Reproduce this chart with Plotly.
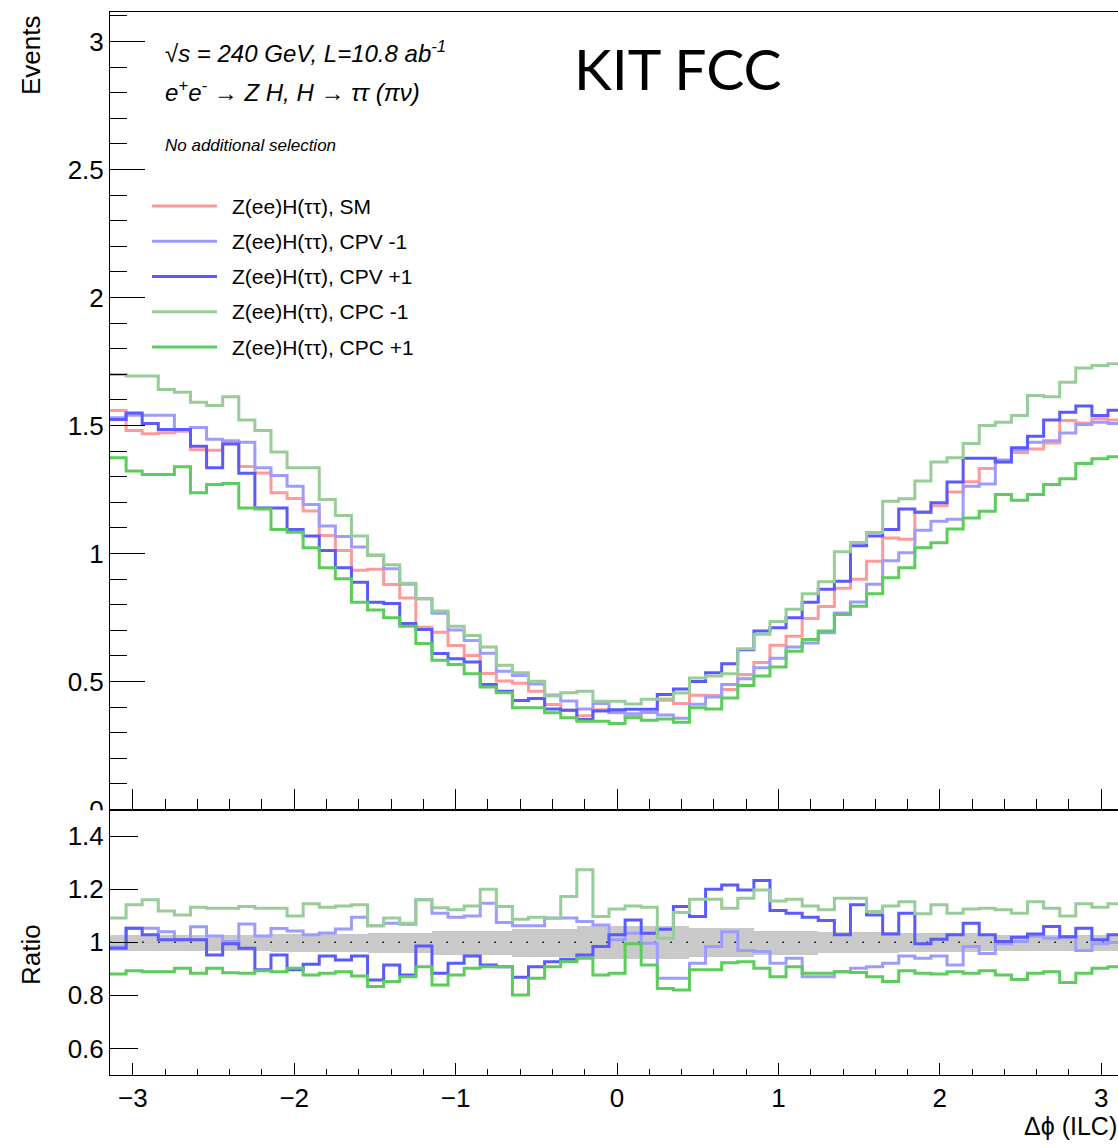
import numpy as np
import plotly.graph_objects as go

# ---------------- data ----------------
n_bins = 63
x_lo, x_hi = -np.pi, np.pi

sm = [1.559, 1.480, 1.468, 1.472, 1.478, 1.405, 1.403, 1.433, 1.340, 1.314,
      1.237, 1.215, 1.166, 1.070, 1.012, 0.935, 0.938, 0.879, 0.826, 0.712,
      0.692, 0.641, 0.602, 0.531, 0.502, 0.493, 0.462, 0.410, 0.388, 0.366,
      0.390, 0.378, 0.364, 0.380, 0.427, 0.414, 0.446, 0.445, 0.469, 0.527,
      0.574, 0.642, 0.677, 0.746, 0.793, 0.864, 0.899, 0.970, 1.061, 1.056,
      1.162, 1.187, 1.240, 1.280, 1.332, 1.358, 1.395, 1.408, 1.432, 1.520,
      1.510, 1.526, 1.521]

cpv_m1 = [1.530, 1.540, 1.540, 1.540, 1.484, 1.492, 1.446, 1.440, 1.435, 1.335,
          1.305, 1.263, 1.191, 1.107, 1.066, 1.025, 0.994, 0.940, 0.880, 0.823,
          0.767, 0.701, 0.660, 0.610, 0.540, 0.523, 0.490, 0.447, 0.424, 0.393,
          0.414, 0.379, 0.374, 0.379, 0.369, 0.356, 0.411, 0.439, 0.488, 0.511,
          0.554, 0.591, 0.635, 0.650, 0.690, 0.768, 0.811, 0.880, 0.972, 1.003,
          1.091, 1.126, 1.134, 1.263, 1.271, 1.365, 1.405, 1.435, 1.440, 1.471,
          1.504, 1.513, 1.508]

cpv_p1 = [1.523, 1.549, 1.508, 1.484, 1.484, 1.419, 1.335, 1.428, 1.313, 1.178,
          1.178, 1.094, 1.068, 1.012, 0.944, 0.888, 0.810, 0.805, 0.727, 0.703,
          0.609, 0.589, 0.576, 0.488, 0.462, 0.426, 0.434, 0.393, 0.388, 0.352,
          0.385, 0.390, 0.392, 0.392, 0.449, 0.471, 0.500, 0.534, 0.569, 0.624,
          0.697, 0.710, 0.749, 0.810, 0.860, 0.892, 1.030, 1.068, 1.094, 1.174,
          1.161, 1.198, 1.279, 1.372, 1.372, 1.357, 1.413, 1.458, 1.521, 1.552,
          1.576, 1.539, 1.560]

cpc_m1 = [1.699, 1.693, 1.693, 1.641, 1.630, 1.591, 1.578, 1.612, 1.521, 1.480,
          1.396, 1.335, 1.335, 1.211, 1.148, 1.068, 0.992, 0.956, 0.884, 0.823,
          0.775, 0.716, 0.680, 0.635, 0.563, 0.534, 0.501, 0.443, 0.456, 0.462,
          0.423, 0.423, 0.412, 0.431, 0.432, 0.455, 0.514, 0.521, 0.530, 0.628,
          0.685, 0.734, 0.782, 0.843, 0.890, 1.007, 1.043, 1.082, 1.204, 1.214,
          1.283, 1.357, 1.374, 1.430, 1.500, 1.513, 1.539, 1.617, 1.612, 1.669,
          1.725, 1.734, 1.741]

cpc_p1 = [1.374, 1.322, 1.309, 1.309, 1.339, 1.237, 1.270, 1.273, 1.178, 1.174,
          1.094, 1.083, 1.022, 0.944, 0.901, 0.810, 0.779, 0.749, 0.716, 0.648,
          0.583, 0.566, 0.530, 0.479, 0.456, 0.397, 0.397, 0.378, 0.358, 0.345,
          0.345, 0.336, 0.358, 0.349, 0.354, 0.341, 0.397, 0.393, 0.436, 0.484,
          0.521, 0.557, 0.618, 0.664, 0.697, 0.762, 0.794, 0.843, 0.905, 0.944,
          1.022, 1.042, 1.096, 1.139, 1.165, 1.230, 1.208, 1.230, 1.270, 1.292,
          1.352, 1.370, 1.378]

ratio_cpv_m1 = [0.982, 1.053, 1.053, 1.040, 1.010, 1.058, 1.024, 1.003, 1.069, 1.024,
                1.052, 1.042, 1.028, 1.035, 1.050, 1.094, 1.062, 1.072, 1.068, 1.160,
                1.109, 1.094, 1.099, 1.147, 1.074, 1.062, 1.062, 1.091, 1.091, 1.078,
                1.065, 1.009, 1.034, 0.996, 0.864, 0.864, 0.921, 0.984, 1.040, 0.969,
                0.965, 0.921, 0.940, 0.870, 0.870, 0.889, 0.902, 0.908, 0.921, 0.948,
                0.940, 0.948, 0.914, 0.984, 0.958, 0.994, 1.003, 1.024, 1.015, 1.019,
                0.969, 0.994, 0.999]

ratio_cpv_p1 = [0.977, 1.053, 1.028, 1.009, 1.009, 1.009, 0.952, 0.994, 0.977, 0.896,
                0.952, 0.896, 0.917, 0.948, 0.933, 0.948, 0.858, 0.914, 0.877, 0.986,
                0.883, 0.921, 0.948, 0.914, 0.908, 0.868, 0.908, 0.927, 0.936, 0.952,
                0.984, 1.028, 1.084, 1.034, 1.049, 1.135, 1.097, 1.200, 1.216, 1.197,
                1.233, 1.120, 1.109, 1.094, 1.082, 1.028, 1.141, 1.103, 1.031, 1.109,
                0.994, 1.011, 1.028, 1.072, 1.028, 1.003, 1.019, 1.031, 1.059, 1.021,
                1.053, 1.009, 1.028]

ratio_cpc_m1 = [1.091, 1.141, 1.160, 1.118, 1.103, 1.132, 1.128, 1.128, 1.135, 1.128,
                1.128, 1.099, 1.145, 1.132, 1.137, 1.141, 1.062, 1.091, 1.072, 1.160,
                1.130, 1.122, 1.137, 1.200, 1.135, 1.087, 1.094, 1.090, 1.172, 1.273,
                1.097, 1.125, 1.137, 1.132, 1.015, 1.112, 1.162, 1.162, 1.128, 1.166,
                1.197, 1.155, 1.162, 1.137, 1.122, 1.166, 1.166, 1.116, 1.137, 1.153,
                1.107, 1.141, 1.109, 1.125, 1.128, 1.122, 1.109, 1.153, 1.128, 1.099,
                1.145, 1.132, 1.145]

ratio_cpc_p1 = [0.880, 0.893, 0.889, 0.889, 0.902, 0.883, 0.902, 0.885, 0.883, 0.893,
                0.889, 0.902, 0.877, 0.883, 0.889, 0.873, 0.833, 0.852, 0.870, 0.908,
                0.839, 0.877, 0.902, 0.908, 0.908, 0.801, 0.864, 0.908, 0.927, 0.940,
                0.877, 0.883, 0.994, 0.914, 0.826, 0.820, 0.896, 0.896, 0.923, 0.927,
                0.902, 0.870, 0.908, 0.883, 0.883, 0.889, 0.886, 0.870, 0.852, 0.893,
                0.883, 0.880, 0.889, 0.883, 0.893, 0.877, 0.860, 0.883, 0.889, 0.848,
                0.883, 0.902, 0.908]

# relative statistical uncertainty of the SM histogram (grey band), per bin
sm_rel_err = [0.030] * 10 + [0.033] * 6 + [0.038] * 4 + [0.045] * 5 + \
             [0.052] * 4 + [0.062] * 7 + [0.055] * 4 + [0.046] * 4 + \
             [0.040] * 5 + [0.035] * 5 + [0.030] * 9

series_names = ["Z(ee)H(ττ), SM", "Z(ee)H(ττ), CPV -1", "Z(ee)H(ττ), CPV +1",
                "Z(ee)H(ττ), CPC -1", "Z(ee)H(ττ), CPC +1"]
x_tick_vals = [-3, -2, -1, 0, 1, 2, 3]
y_main_tick_vals = [0, 0.5, 1, 1.5, 2, 2.5, 3]
y_ratio_tick_vals = [0.6, 0.8, 1.0, 1.2, 1.4]

# ---------------- styling ----------------
colors = ["#ff9a9a", "#9c9cff", "#5a5aff", "#98cc98", "#5ccc5c"]
FONT = "Liberation Sans, Arial, Helvetica, sans-serif"
W, H = 1118, 1148
ML, MR, MT, MB = 110, 0, 12, 73
PW, PH = W - ML - MR, H - MT - MB
PX_PER_UNIT = 161.4
SPLIT_PX = 809.5
TICK_FS = 26


def pxx(px):
    return (px - ML) / PW


def pxy(py):
    return (H - MB - py) / PH


edges = np.linspace(x_lo, x_hi, n_bins + 1)
centers = 0.5 * (edges[:-1] + edges[1:])
bw = edges[1] - edges[0]

fig = go.Figure()

main_series = [sm, cpv_m1, cpv_p1, cpc_m1, cpc_p1]
for name, vals, col in zip(series_names, main_series, colors):
    fig.add_trace(go.Scatter(x=edges, y=list(vals) + [vals[-1]], mode="lines",
                             line=dict(color=col, width=3, shape="hv"),
                             name=name, showlegend=False, xaxis="x", yaxis="y",
                             hoverinfo="skip"))

err = np.array(sm_rel_err)
fig.add_trace(go.Bar(x=centers, y=2 * err, base=1 - err, width=bw,
                     marker=dict(color="#c9c9c9", line=dict(width=0)),
                     showlegend=False, xaxis="x2", yaxis="y2", hoverinfo="skip"))
fig.add_trace(go.Scatter(x=[x_lo, x_hi], y=[1, 1], mode="lines",
                         line=dict(color="#333333", width=1.5, dash="2px,14px"),
                         showlegend=False, xaxis="x2", yaxis="y2", hoverinfo="skip"))

ratio_series = [ratio_cpv_m1, ratio_cpv_p1, ratio_cpc_m1, ratio_cpc_p1]
for name, vals, col in zip(series_names[1:], ratio_series, colors[1:]):
    fig.add_trace(go.Scatter(x=edges, y=list(vals) + [vals[-1]], mode="lines",
                             line=dict(color=col, width=3, shape="hv"),
                             name=name, showlegend=False, xaxis="x2", yaxis="y2",
                             hoverinfo="skip"))

x_range = [x_lo, x_lo + PW / PX_PER_UNIT]
split_frac = pxy(SPLIT_PX)

axis_common = dict(showgrid=False, zeroline=False, showline=True, linecolor="black",
                   linewidth=1, ticks="inside", tickcolor="black", tickwidth=1)

fig.update_layout(
    width=W, height=H,
    margin=dict(l=ML, r=MR, t=MT, b=MB, pad=0),
    paper_bgcolor="white", plot_bgcolor="white",
    showlegend=False, bargap=0,
    font=dict(family=FONT, color="black"),
    xaxis=dict(domain=[0, 1], anchor="y", range=x_range, mirror=True,
               tickmode="array", tickvals=x_tick_vals, ticklen=21,
               showticklabels=False,
               minor=dict(ticks="inside", ticklen=11, dtick=0.2, tick0=0,
                          tickcolor="black", tickwidth=1, showgrid=False),
               **axis_common),
    yaxis=dict(domain=[split_frac, 1], anchor="x", range=[0, (SPLIT_PX - MT) / 256.0],
               tickmode="array", tickvals=y_main_tick_vals,
               ticktext=[f"{v:g}" for v in y_main_tick_vals], ticklen=35,
               tickfont=dict(size=TICK_FS, family=FONT), mirror=False,
               minor=dict(ticks="inside", ticklen=17, dtick=0.1, tick0=0,
                          tickcolor="black", tickwidth=1, showgrid=False),
               **axis_common),
    xaxis2=dict(domain=[0, 1], anchor="y2", range=x_range, mirror=True,
                tickmode="array", tickvals=x_tick_vals, ticklen=12,
                tickfont=dict(size=TICK_FS, family=FONT),
                minor=dict(ticks="inside", ticklen=6, dtick=0.2, tick0=0,
                           tickcolor="black", tickwidth=1, showgrid=False),
                **axis_common),
    yaxis2=dict(domain=[0, split_frac], anchor="x2", range=[0.5, 1.5],
                tickmode="array", tickvals=y_ratio_tick_vals,
                ticktext=[f"{v:g}" for v in y_ratio_tick_vals], ticklen=28,
                tickfont=dict(size=TICK_FS, family=FONT), mirror=False,
                **axis_common),
)

shapes = []
# ROOT ratio pad covers the lower half of the main-pad "0" label
shapes.append(dict(type="rect", xref="paper", yref="paper", layer="above",
                   x0=pxx(40), x1=pxx(108), y0=pxy(825), y1=pxy(SPLIT_PX + 0.8),
                   fillcolor="white", line=dict(width=0)))

annotations = []
# axis titles
annotations.append(dict(text="Events", xref="paper", yref="paper", x=pxx(31), y=pxy(55),
                        xanchor="center", yanchor="middle", textangle=-90, showarrow=False,
                        font=dict(size=26, family=FONT)))
annotations.append(dict(text="Ratio", xref="paper", yref="paper", x=pxx(31), y=pxy(955),
                        xanchor="center", yanchor="middle", textangle=-90, showarrow=False,
                        font=dict(size=26, family=FONT)))
annotations.append(dict(text="Δϕ (ILC)", xref="paper", yref="paper", x=pxx(1119), y=pxy(1126),
                        xanchor="right", yanchor="middle", showarrow=False,
                        font=dict(size=25, family=FONT)))
# header texts
annotations.append(dict(text="KIT FCC", xref="paper", yref="paper", x=pxx(677), y=pxy(68),
                        xanchor="center", yanchor="middle", showarrow=False,
                        font=dict(size=57, family="Lato, Noto Sans, sans-serif")))
annotations.append(dict(text="<i>√s = 240 GeV, L=10.8 ab<sup>-1</sup></i>", xref="paper",
                        yref="paper", x=pxx(163), y=pxy(52), xanchor="left", yanchor="middle",
                        showarrow=False, font=dict(size=24, family=FONT)))
annotations.append(dict(text="<i>e<sup>+</sup>e<sup>-</sup> → Z H, H → ττ (πν)</i>",
                        xref="paper", yref="paper", x=pxx(163), y=pxy(91), xanchor="left",
                        yanchor="middle", showarrow=False, font=dict(size=24, family=FONT)))
annotations.append(dict(text="<i>No additional selection</i>", xref="paper", yref="paper",
                        x=pxx(163), y=pxy(146), xanchor="left", yanchor="middle",
                        showarrow=False, font=dict(size=17, family=FONT)))

# legend (drawn manually to match ROOT TLegend geometry)
leg_y0, leg_dy = 206, 35.25
for i, (name, col) in enumerate(zip(series_names, colors)):
    yy = leg_y0 + i * leg_dy
    shapes.append(dict(type="line", xref="paper", yref="paper", x0=pxx(152), x1=pxx(217),
                       y0=pxy(yy), y1=pxy(yy), line=dict(color=col, width=3)))
    annotations.append(dict(text=name, xref="paper", yref="paper", x=pxx(230), y=pxy(yy),
                            xanchor="left", yanchor="middle", showarrow=False,
                            font=dict(size=21, family=FONT)))

fig.update_layout(shapes=shapes, annotations=annotations)
fig.write_html("out.html")
